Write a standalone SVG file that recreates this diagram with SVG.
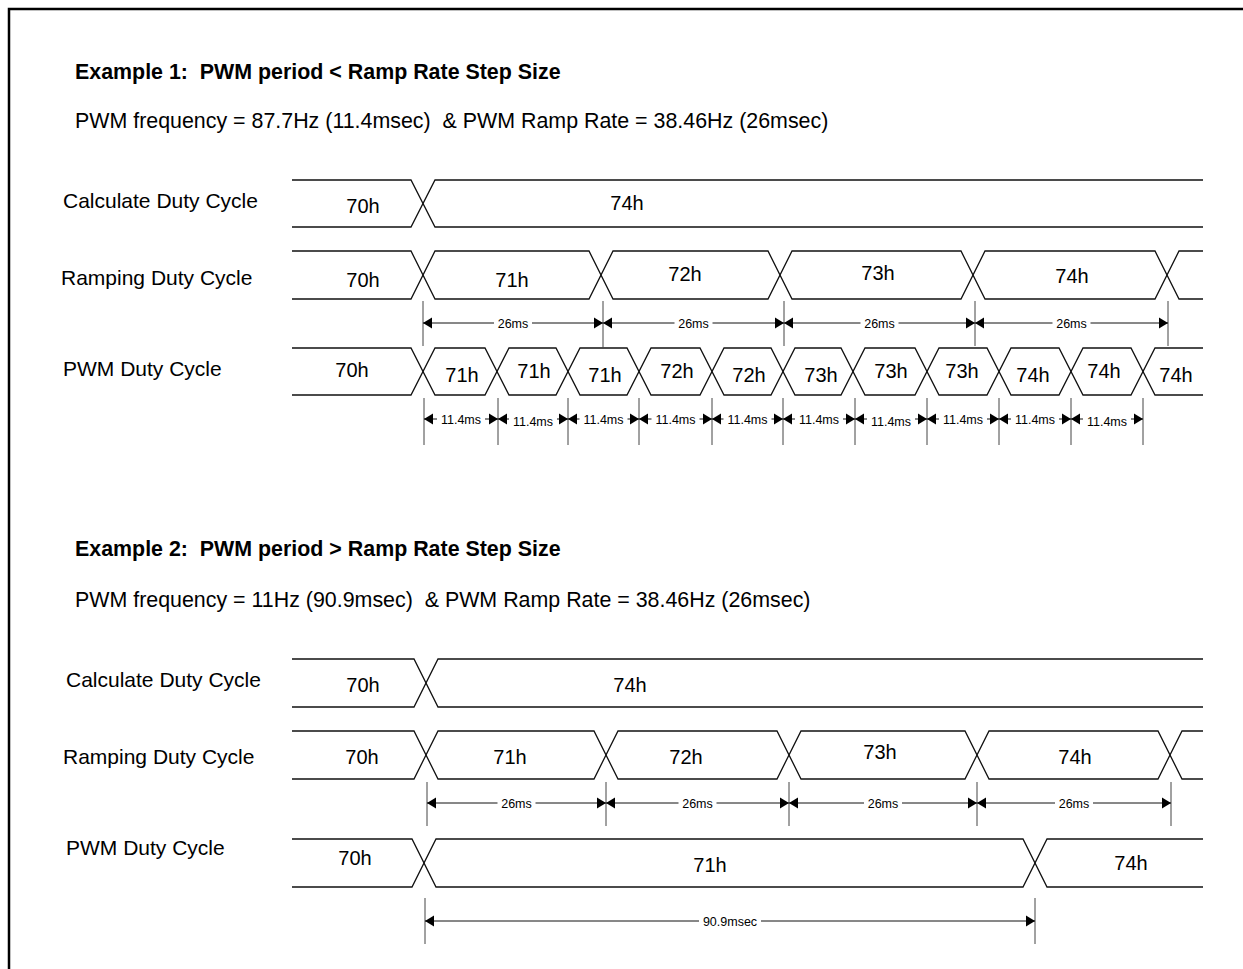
<svg xmlns="http://www.w3.org/2000/svg" width="1243" height="969" viewBox="0 0 1243 969">
<style>
text{font-family:"Liberation Sans",Arial,sans-serif;fill:#000}
.h{font-size:21.4px;font-weight:bold;white-space:pre}
.t{font-size:21.4px;white-space:pre}
.lb{font-size:21px}
.v{font-size:20px;text-anchor:middle}
.d{font-size:12.5px;text-anchor:middle}
.bus{fill:none;stroke:#111;stroke-width:1.3}
.tick{stroke:#444;stroke-width:1;fill:none}
.dim{stroke:#111;stroke-width:1;fill:none;marker-end:url(#ah)}
</style>
<defs>
<marker id="ah" markerUnits="userSpaceOnUse" markerWidth="10" markerHeight="12" viewBox="0 -6 10 12" refX="9" refY="0" orient="auto">
<path d="M0,-5.5 L9,0 L0,5.5 Z" fill="#000"/>
</marker>
</defs>
<rect width="1243" height="969" fill="#fff"/>
<path d="M9,969 V9 H1243" fill="none" stroke="#000" stroke-width="2.5"/>

<g id="titles">
<text class="h" x="75" y="79" xml:space="preserve">Example 1:  PWM period &lt; Ramp Rate Step Size</text>
<text class="t" x="75" y="127.5" xml:space="preserve">PWM frequency = 87.7Hz (11.4msec)  &amp; PWM Ramp Rate = 38.46Hz (26msec)</text>
<text class="h" x="75" y="556" xml:space="preserve">Example 2:  PWM period &gt; Ramp Rate Step Size</text>
<text class="t" x="75" y="606.5" xml:space="preserve">PWM frequency = 11Hz (90.9msec)  &amp; PWM Ramp Rate = 38.46Hz (26msec)</text>
</g>

<g id="ex1-calc">
<text class="lb" x="63" y="208">Calculate Duty Cycle</text>
<path class="bus" d="M292,180 H411 L435,227 H1203"/>
<path class="bus" d="M292,227 H411 L435,180 H1203"/>
<text class="v" x="363" y="213">70h</text>
<text class="v" x="627" y="210">74h</text>
</g>

<g id="ex1-ramp">
<text class="lb" x="61" y="285">Ramping Duty Cycle</text>
<path class="bus" d="M292,251 H411 L435,299 H589 L613,251 H768 L792,299 H961 L985,251 H1155 L1179,299 H1203"/>
<path class="bus" d="M292,299 H411 L435,251 H589 L613,299 H768 L792,251 H961 L985,299 H1155 L1179,251 H1203"/>
<text class="v" x="363" y="287">70h</text>
<text class="v" x="512" y="287">71h</text>
<text class="v" x="685" y="281">72h</text>
<text class="v" x="878" y="280">73h</text>
<text class="v" x="1072" y="283">74h</text>
</g>

<g id="ex1-pwm">
<text class="lb" x="63" y="376">PWM Duty Cycle</text>
<path class="bus" d="M292,348 H411 L435,395 H485 L509,348 H556 L580,395 H627 L651,348 H700 L724,395 H771 L795,348 H841 L865,395 H915 L939,348 H987 L1011,395 H1059 L1083,348 H1131 L1155,395 H1203"/>
<path class="bus" d="M292,395 H411 L435,348 H485 L509,395 H556 L580,348 H627 L651,395 H700 L724,348 H771 L795,395 H841 L865,348 H915 L939,395 H987 L1011,348 H1059 L1083,395 H1131 L1155,348 H1203"/>
<text class="v" x="352" y="377">70h</text>
<text class="v" x="462" y="382">71h</text>
<text class="v" x="534" y="378">71h</text>
<text class="v" x="605" y="382">71h</text>
<text class="v" x="677" y="378">72h</text>
<text class="v" x="749" y="382">72h</text>
<text class="v" x="821" y="382">73h</text>
<text class="v" x="891" y="378">73h</text>
<text class="v" x="962" y="378">73h</text>
<text class="v" x="1033" y="382">74h</text>
<text class="v" x="1104" y="378">74h</text>
<text class="v" x="1176" y="382">74h</text>
</g>

<g id="ex2-calc">
<text class="lb" x="66" y="687">Calculate Duty Cycle</text>
<path class="bus" d="M292,659 H414 L438,707 H1203"/>
<path class="bus" d="M292,707 H414 L438,659 H1203"/>
<text class="v" x="363" y="692">70h</text>
<text class="v" x="630" y="692">74h</text>
</g>

<g id="ex2-ramp">
<text class="lb" x="63" y="764">Ramping Duty Cycle</text>
<path class="bus" d="M292,731 H414 L438,779 H594 L618,731 H777 L801,779 H965 L989,731 H1158 L1182,779 H1203"/>
<path class="bus" d="M292,779 H414 L438,731 H594 L618,779 H777 L801,731 H965 L989,779 H1158 L1182,731 H1203"/>
<text class="v" x="362" y="764">70h</text>
<text class="v" x="510" y="764">71h</text>
<text class="v" x="686" y="764">72h</text>
<text class="v" x="880" y="759">73h</text>
<text class="v" x="1075" y="764">74h</text>
</g>

<g id="ex2-pwm">
<text class="lb" x="66" y="855">PWM Duty Cycle</text>
<path class="bus" d="M292,839 H412 L436,887 H1023 L1047,839 H1203"/>
<path class="bus" d="M292,887 H412 L436,839 H1023 L1047,887 H1203"/>
<text class="v" x="355" y="865">70h</text>
<text class="v" x="710" y="872">71h</text>
<text class="v" x="1131" y="870">74h</text>
</g>

<g id="connectors">
<path class="tick" d="M423,301 V346 M603,301 V348 M784,301 V346 M975,301 V346 M1168,301 V346"/>
<line class="dim" x1="494" y1="323" x2="423" y2="323"/>
<line class="dim" x1="532" y1="323" x2="603" y2="323"/>
<line class="dim" x1="674.5" y1="323" x2="603" y2="323"/>
<line class="dim" x1="712.5" y1="323" x2="784" y2="323"/>
<line class="dim" x1="860.5" y1="323" x2="784" y2="323"/>
<line class="dim" x1="898.5" y1="323" x2="975" y2="323"/>
<line class="dim" x1="1052.5" y1="323" x2="975" y2="323"/>
<line class="dim" x1="1090.5" y1="323" x2="1168" y2="323"/>
<text class="d" x="513" y="327.5">26ms</text>
<text class="d" x="693.5" y="327.5">26ms</text>
<text class="d" x="879.5" y="327.5">26ms</text>
<text class="d" x="1071.5" y="327.5">26ms</text>

<path class="tick" d="M424,398 V445 M498,398 V445 M568,398 V445 M639,398 V445 M712,398 V445 M783,398 V445 M855,398 V445 M927,398 V445 M999,398 V445 M1071,398 V445 M1143,398 V445"/>
<line class="dim" x1="437" y1="419" x2="424" y2="419"/>
<line class="dim" x1="485" y1="419" x2="498" y2="419"/>
<line class="dim" x1="509" y1="419" x2="498" y2="419"/>
<line class="dim" x1="557" y1="419" x2="568" y2="419"/>
<line class="dim" x1="579.5" y1="419" x2="568" y2="419"/>
<line class="dim" x1="627.5" y1="419" x2="639" y2="419"/>
<line class="dim" x1="651.5" y1="419" x2="639" y2="419"/>
<line class="dim" x1="699.5" y1="419" x2="712" y2="419"/>
<line class="dim" x1="723.5" y1="419" x2="712" y2="419"/>
<line class="dim" x1="771.5" y1="419" x2="783" y2="419"/>
<line class="dim" x1="795" y1="419" x2="783" y2="419"/>
<line class="dim" x1="843" y1="419" x2="855" y2="419"/>
<line class="dim" x1="867" y1="419" x2="855" y2="419"/>
<line class="dim" x1="915" y1="419" x2="927" y2="419"/>
<line class="dim" x1="939" y1="419" x2="927" y2="419"/>
<line class="dim" x1="987" y1="419" x2="999" y2="419"/>
<line class="dim" x1="1011" y1="419" x2="999" y2="419"/>
<line class="dim" x1="1059" y1="419" x2="1071" y2="419"/>
<line class="dim" x1="1083" y1="419" x2="1071" y2="419"/>
<line class="dim" x1="1131" y1="419" x2="1143" y2="419"/>
<text class="d" x="461" y="423.5">11.4ms</text>
<text class="d" x="533" y="425.5">11.4ms</text>
<text class="d" x="603.5" y="423.5">11.4ms</text>
<text class="d" x="675.5" y="423.5">11.4ms</text>
<text class="d" x="747.5" y="423.5">11.4ms</text>
<text class="d" x="819" y="423.5">11.4ms</text>
<text class="d" x="891" y="425.5">11.4ms</text>
<text class="d" x="963" y="423.5">11.4ms</text>
<text class="d" x="1035" y="423.5">11.4ms</text>
<text class="d" x="1107" y="425.5">11.4ms</text>

<path class="tick" d="M427,782 V826 M606,782 V826 M789,782 V826 M977,782 V826 M1171,782 V826"/>
<line class="dim" x1="497.5" y1="803" x2="427" y2="803"/>
<line class="dim" x1="535.5" y1="803" x2="606" y2="803"/>
<line class="dim" x1="678.5" y1="803" x2="606" y2="803"/>
<line class="dim" x1="716.5" y1="803" x2="789" y2="803"/>
<line class="dim" x1="864" y1="803" x2="789" y2="803"/>
<line class="dim" x1="902" y1="803" x2="977" y2="803"/>
<line class="dim" x1="1055" y1="803" x2="977" y2="803"/>
<line class="dim" x1="1093" y1="803" x2="1171" y2="803"/>
<text class="d" x="516.5" y="807.5">26ms</text>
<text class="d" x="697.5" y="807.5">26ms</text>
<text class="d" x="883" y="807.5">26ms</text>
<text class="d" x="1074" y="807.5">26ms</text>

<path class="tick" d="M425,898 V944 M1035,898 V944"/>
<line class="dim" x1="699" y1="921" x2="425" y2="921"/>
<line class="dim" x1="761" y1="921" x2="1035" y2="921"/>
<text class="d" x="730" y="925.5">90.9msec</text>
</g>
</svg>
